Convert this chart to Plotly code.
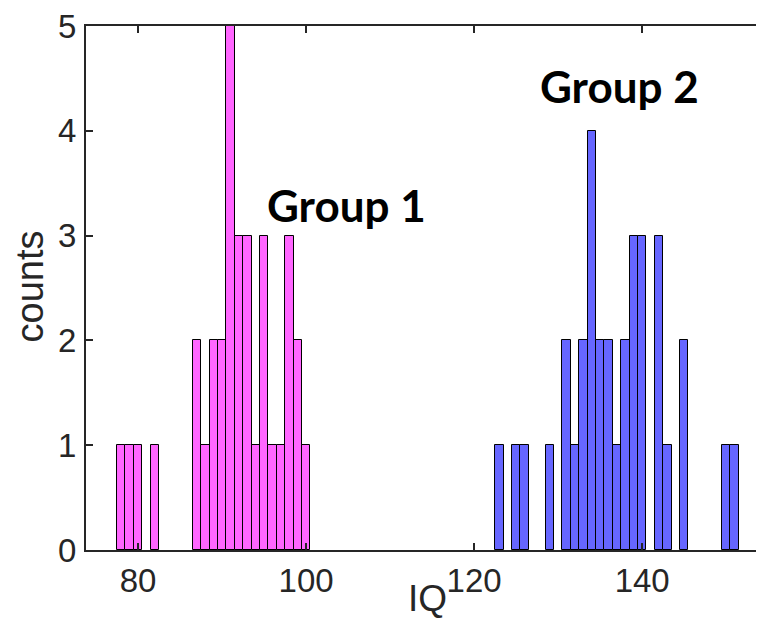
import plotly.graph_objects as go

# Group 1 (magenta) histogram: bin centers and counts
g1_iq = [78, 79, 80, 82, 87, 88, 89, 90, 91, 92, 93, 94, 95, 96, 97, 98, 99, 100]
g1_counts = [1, 1, 1, 1, 2, 1, 2, 2, 5, 3, 3, 1, 3, 1, 1, 3, 2, 1]

# Group 2 (blue) histogram: bin centers and counts
g2_iq = [123, 125, 126, 129, 131, 132, 133, 134, 135, 136, 137, 138, 139, 140, 142, 143, 145, 150, 151]
g2_counts = [1, 1, 1, 1, 2, 1, 2, 4, 2, 2, 1, 2, 3, 3, 3, 1, 2, 1, 1]

x_ticks = [80, 100, 120, 140]
y_ticks = [0, 1, 2, 3, 4, 5]

axis_col = "#262626"
fam = "Liberation Sans, Arial, sans-serif"
font_tick = dict(family=fam, size=33, color=axis_col)

fig = go.Figure()
fig.add_trace(go.Bar(x=g1_iq, y=g1_counts, width=1,
                     marker=dict(color="#FF66FF", line=dict(color="#000000", width=1))))
fig.add_trace(go.Bar(x=g2_iq, y=g2_counts, width=1,
                     marker=dict(color="#6666FF", line=dict(color="#000000", width=1))))

fig.add_annotation(x=104.8, y=3.29, text="<b>Group 1</b>", showarrow=False,
                   font=dict(family="Lato, sans-serif", size=44, color="#000000"))
fig.add_annotation(x=137.3, y=4.43, text="<b>Group 2</b>", showarrow=False,
                   font=dict(family="Lato, sans-serif", size=44, color="#000000"))

fig.add_annotation(xref="paper", yref="paper", x=-0.0826, y=0.503, text="counts",
                   textangle=-90, showarrow=False, xanchor="center", yanchor="middle",
                   font=dict(family=fam, size=38, color=axis_col))
fig.add_annotation(xref="paper", yref="paper", x=0.504, y=-0.093, text="IQ",
                   showarrow=False, xanchor="center", yanchor="middle",
                   font=dict(family=fam, size=37, color=axis_col))

fig.update_layout(
    width=756, height=623,
    margin=dict(l=78, r=0, t=15, b=81),
    plot_bgcolor="white", paper_bgcolor="white",
    showlegend=False, bargap=0,
    xaxis=dict(range=[73.8, 154.5], tickvals=x_ticks, ticks="inside", ticklen=7,
               tickwidth=1.5, tickcolor=axis_col, showline=True, linewidth=2,
               linecolor=axis_col, mirror="ticks", showgrid=False, zeroline=False,
               tickfont=font_tick, ticklabelstandoff=0, ticklabeloverflow="allow"),
    yaxis=dict(range=[0, 5], tickvals=y_ticks, ticks="inside", ticklen=7,
               tickwidth=1.5, tickcolor=axis_col, showline=True, linewidth=2,
               linecolor=axis_col, mirror=False, showgrid=False, zeroline=False,
               tickfont=font_tick, ticklabelstandoff=1, ticklabeloverflow="allow"),
)

fig.write_html("out.html")
